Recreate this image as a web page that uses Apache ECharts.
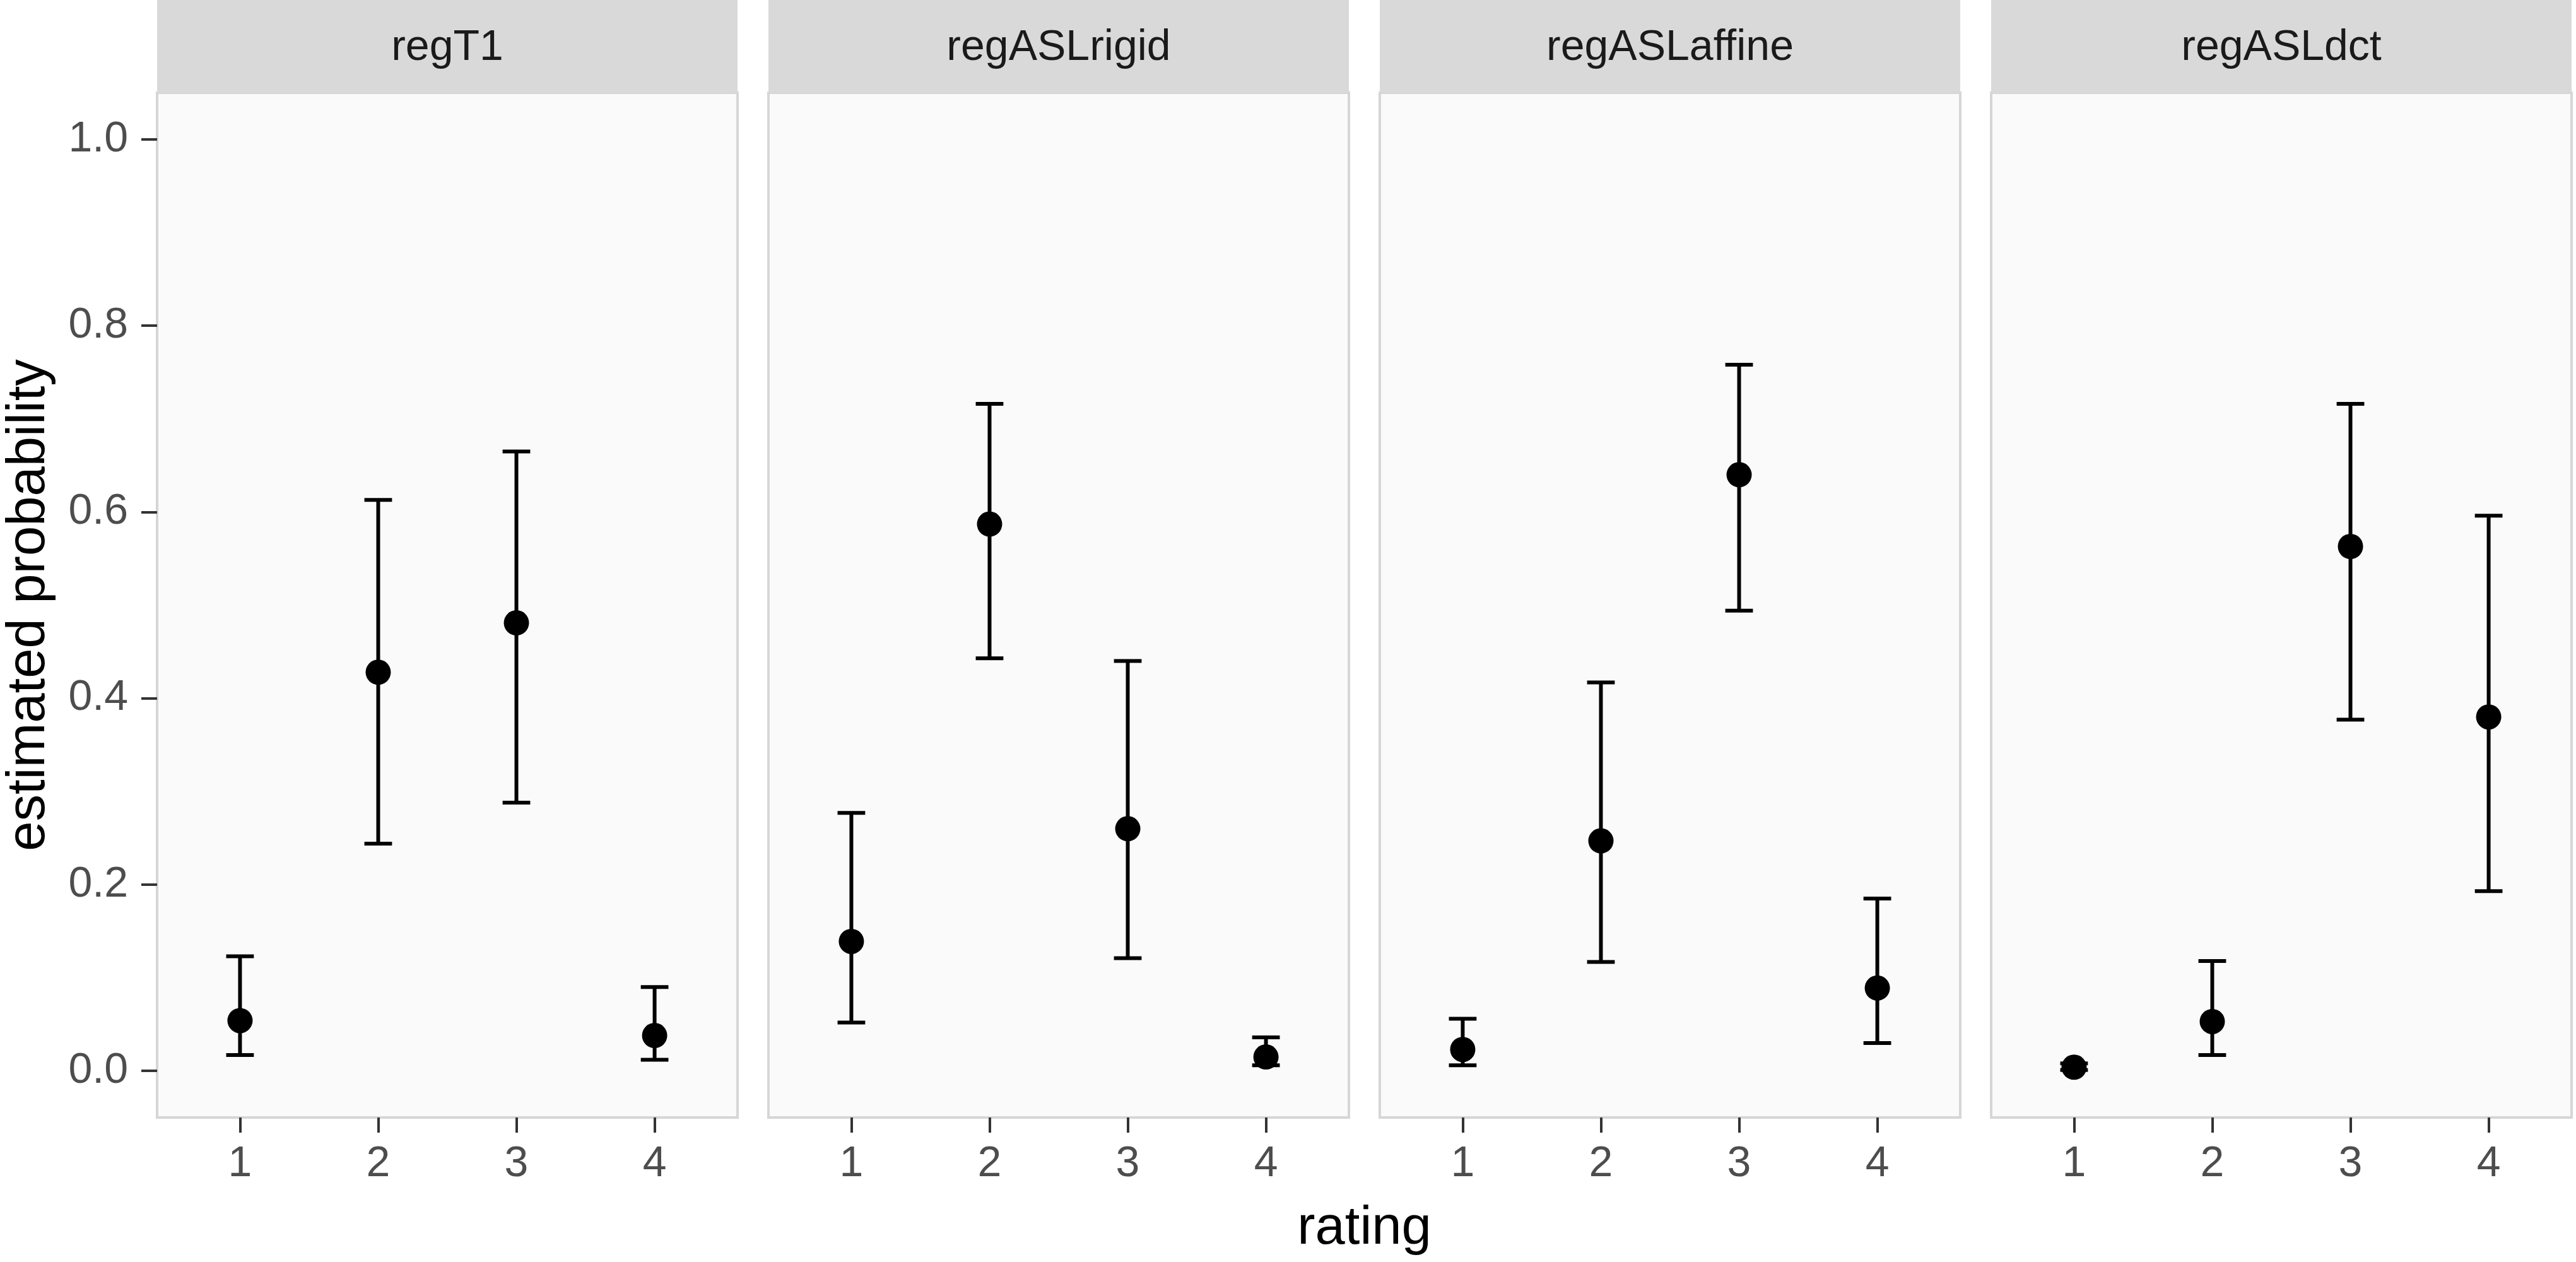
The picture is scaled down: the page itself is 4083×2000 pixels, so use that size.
<!DOCTYPE html>
<html>
<head>
<meta charset="utf-8">
<script src="https://cdn.jsdelivr.net/npm/echarts@6/dist/echarts.min.js"></script>
<style>
html,body{margin:0;padding:0;background:#fff;}
#c{width:4083px;height:2000px;}
</style>
</head>
<body>
<div id="c"></div>
<script>
// ---- data ----
const panels = ['regT1', 'regASLrigid', 'regASLaffine', 'regASLdct'];
const ratings = [1, 2, 3, 4];
const yTicks = [0, 0.2, 0.4, 0.6, 0.8, 1.0];

const estRegT1       = [0.054, 0.428, 0.481, 0.038];
const loRegT1        = [0.017, 0.244, 0.288, 0.012];
const hiRegT1        = [0.123, 0.613, 0.665, 0.090];

const estRegASLrigid = [0.139, 0.587, 0.260, 0.015];
const loRegASLrigid  = [0.052, 0.443, 0.121, 0.006];
const hiRegASLrigid  = [0.277, 0.716, 0.440, 0.036];

const estRegASLaffine = [0.023, 0.247, 0.640, 0.089];
const loRegASLaffine  = [0.006, 0.117, 0.494, 0.030];
const hiRegASLaffine  = [0.056, 0.417, 0.758, 0.185];

const estRegASLdct   = [0.004, 0.053, 0.563, 0.380];
const loRegASLdct    = [0.001, 0.017, 0.377, 0.193];
const hiRegASLdct    = [0.008, 0.118, 0.716, 0.596];

const estAll = [estRegT1, estRegASLrigid, estRegASLaffine, estRegASLdct];
const loAll  = [loRegT1, loRegASLrigid, loRegASLaffine, loRegASLdct];
const hiAll  = [hiRegT1, hiRegASLrigid, hiRegASLaffine, hiRegASLdct];

// ---- layout ----
const FONT = 'Liberation Sans, Arial, sans-serif';
const panelLeft0 = 249, panelW = 920, panelStep = 969;
const panelTop = 147, panelBottom = 1771;
const stripH = 147;

const chart = echarts.init(document.getElementById('c'), null, {renderer: 'canvas'});

const grids = [], xAxes = [], yAxes = [], series = [], graphics = [];

panels.forEach((name, i) => {
  const left = panelLeft0 + i * panelStep;
  grids.push({
    left: left, top: panelTop, width: panelW, height: panelBottom - panelTop,
    show: true, backgroundColor: '#FAFAFA', borderColor: '#D6D6D6', borderWidth: 4,
    containLabel: false
  });
  xAxes.push({
    type: 'value', gridIndex: i, min: 0.4, max: 4.6, position: 'bottom',
    axisLine: {show: false, onZero: false},
    splitLine: {show: false},
    axisTick: {show: true, length: 24, lineStyle: {color: '#333333', width: 4}, customValues: ratings},
    axisLabel: {show: true, customValues: ratings, margin: 40, color: '#4D4D4D', fontSize: 68, fontFamily: FONT,
      formatter: v => String(v)}
  });
  yAxes.push({
    type: 'value', gridIndex: i, min: -0.05, max: 1.05, position: 'left',
    axisLine: {show: false, onZero: false},
    splitLine: {show: false},
    axisTick: {show: i === 0, length: 25, lineStyle: {color: '#333333', width: 4}, customValues: yTicks},
    axisLabel: {show: i === 0, customValues: yTicks, margin: 46, color: '#4D4D4D', fontSize: 68, fontFamily: FONT,
      formatter: v => v.toFixed(1)}
  });
  const barData = ratings.map((r, k) => [r, loAll[i][k], hiAll[i][k]]);
  series.push({
    type: 'custom', xAxisIndex: i, yAxisIndex: i, z: 2,
    data: barData,
    renderItem: function (params, api) {
      const x = api.value(0), lo = api.value(1), hi = api.value(2);
      const pLo = api.coord([x, lo]);
      const pHi = api.coord([x, hi]);
      const half = api.size([0.1, 0])[0];
      const st = {stroke: '#000000', lineWidth: 6};
      return {
        type: 'group',
        children: [
          {type: 'line', shape: {x1: pLo[0], y1: pLo[1], x2: pHi[0], y2: pHi[1]}, style: st},
          {type: 'line', shape: {x1: pHi[0] - half, y1: pHi[1], x2: pHi[0] + half, y2: pHi[1]}, style: st},
          {type: 'line', shape: {x1: pLo[0] - half, y1: pLo[1], x2: pLo[0] + half, y2: pLo[1]}, style: st}
        ]
      };
    },
    encode: {x: 0, y: [1, 2]},
    silent: true
  });
  series.push({
    type: 'scatter', xAxisIndex: i, yAxisIndex: i, z: 3,
    data: ratings.map((r, k) => [r, estAll[i][k]]),
    symbol: 'circle', symbolSize: 40,
    itemStyle: {color: '#000000', opacity: 1},
    silent: true
  });
  // strip
  graphics.push({
    type: 'rect', shape: {x: left, y: 0, width: panelW, height: stripH},
    style: {fill: '#D9D9D9'}, silent: true
  });
  graphics.push({
    type: 'text', x: left + panelW / 2, y: 76,
    style: {text: name, fill: '#1A1A1A', font: '68px ' + FONT, textAlign: 'center', textVerticalAlign: 'middle'},
    silent: true
  });
});

// axis titles
graphics.push({
  type: 'text', x: 47, y: (panelTop + panelBottom) / 2, rotation: Math.PI / 2,
  style: {text: 'estimated probability', fill: '#000000', font: '85px ' + FONT, textAlign: 'center', textVerticalAlign: 'middle'},
  silent: true
});
graphics.push({
  type: 'text', x: panelLeft0 + (panelStep * 3 + panelW) / 2, y: 1948,
  style: {text: 'rating', fill: '#000000', font: '85px ' + FONT, textAlign: 'center', textVerticalAlign: 'middle'},
  silent: true
});

chart.setOption({
  animation: false,
  backgroundColor: '#FFFFFF',
  grid: grids,
  xAxis: xAxes,
  yAxis: yAxes,
  series: series,
  graphic: {elements: graphics}
});
</script>
</body>
</html>
